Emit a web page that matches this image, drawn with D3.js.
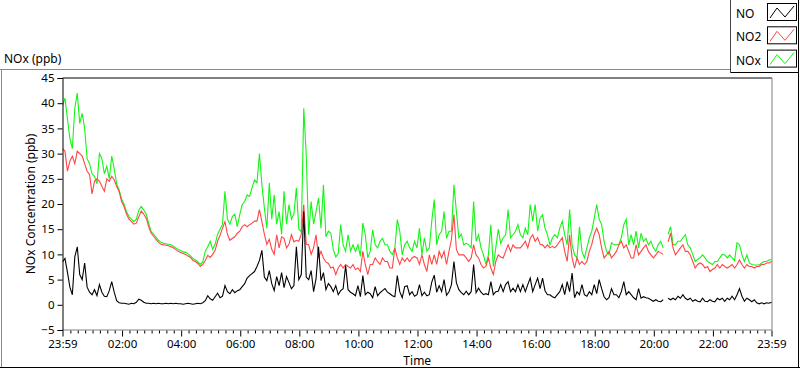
<!DOCTYPE html>
<html>
<head>
<meta charset="utf-8">
<script src="https://cdn.jsdelivr.net/npm/d3@7"></script>
<style>
    html, body { margin: 0; padding: 0; background: #fff; }
    svg { display: block; font-family: "Noto Sans", "Open Sans", sans-serif; }
</style>
</head>
<body>
<svg id="chart" width="800" height="369"></svg>
<script>
// readings every 5 minutes, 23:59 -> 23:59 next day (one row = one hour)
var startTime = new Date(2000, 0, 1, 23, 59);
var endTime = new Date(2000, 0, 2, 23, 59);
var stepMinutes = 5;

var seriesNames = ["NO", "NO2", "NOx"];
var yTicks = [-5, 0, 5, 10, 15, 20, 25, 30, 35, 40, 45];
var xTickLabels = ["23:59", "02:00", "04:00", "06:00", "08:00", "10:00", "12:00",
                   "14:00", "16:00", "18:00", "20:00", "22:00", "23:59"];

var noValues = [
    8.5, 9.2, 6.5, 3.5, 2.0, 9.5, 11.5, 6.0, 5.0, 8.3, 3.5, 2.5,
    2.0, 3.0, 1.8, 4.0, 2.5, 1.7, 1.6, 2.8, 4.6, 2.5, 0.8, 0.4,
    0.3, 0.3, 0.2, 0.1, 0.3, 0.2, 0.5, 1.1, 0.9, 0.5, 0.3, 0.3,
    0.2, 0.3, 0.2, 0.3, 0.2, 0.2, 0.3, 0.2, 0.3, 0.2, 0.3, 0.2,
    0.2, 0.1, 0.2, 0.3, 0.2, 0.1, 0.2, 0.3, 0.2, 0.4, 0.8, 1.8,
    1.2, 0.9, 1.6, 2.3, 1.4, 1.7, 3.8, 2.6, 2.2, 3.0, 2.4, 2.8,
    3.0, 3.6, 4.2, 5.3, 5.8, 6.2, 6.6, 7.6, 8.8, 10.8, 5.5, 4.8,
    6.8, 4.2, 2.8, 5.6, 3.8, 6.4, 3.4, 5.6, 4.4, 3.2, 3.8, 11.5,
    5.0, 6.0, 18.5, 5.5, 5.0, 6.8, 2.6, 5.2, 11.5, 4.8, 6.4, 3.0,
    4.2, 3.6, 2.6, 3.8, 2.0, 2.8, 3.2, 7.8, 3.0, 2.5, 2.2, 1.8,
    3.8, 1.6, 5.8, 2.0, 2.5, 2.2, 1.4, 3.6, 1.8, 2.4, 2.8, 3.2,
    2.5, 2.2, 1.8, 1.6, 5.8, 2.6, 1.4, 3.6, 3.8, 2.0, 2.6, 1.7,
    2.0, 4.0, 1.8, 2.5, 1.8, 2.0, 4.5, 5.9, 2.5, 3.8, 2.6, 5.0,
    1.9, 2.6, 4.0, 8.6, 4.4, 3.0, 2.4, 2.0, 2.7, 2.0, 2.6, 8.0,
    2.4, 3.3, 2.5, 2.0, 2.2, 2.0, 4.6, 2.0, 2.6, 2.7, 4.0, 2.6,
    4.0, 4.6, 2.6, 3.3, 2.6, 4.0, 2.6, 4.0, 2.6, 4.0, 5.3, 2.6,
    4.0, 5.3, 3.2, 5.3, 2.8, 2.0, 2.0, 1.6, 1.4, 2.0, 2.6, 4.0,
    2.0, 4.6, 2.6, 6.3, 1.4, 2.6, 2.0, 4.0, 2.0, 1.7, 2.6, 2.0,
    4.0, 2.2, 5.0, 3.2, 1.6, 1.0, 1.4, 3.2, 2.0, 2.0, 1.4, 2.6,
    4.6, 2.0, 2.6, 2.0, 1.4, 1.0, 3.2, 1.3, 1.6, 1.4, 1.3, 1.0,
    0.7, 1.0, 0.7, 0.6, 1.0, null, 1.3, 1.0, 1.3, 1.0, 1.7, 1.3,
    2.0, 1.3, 1.0, 1.3, 0.7, 1.0, 0.7, 0.6, 1.3, 0.7, 0.6, 1.0,
    0.7, 0.6, 1.3, 1.0, 1.3, 0.7, 1.3, 1.0, 1.7, 1.0, 2.0, 3.2,
    1.7, 0.7, 1.3, 1.0, 0.6, 1.0, 0.4, 0.2, 0.4, 0.2, 0.4, 0.3,
    0.5
];

var no2Values = [
    31, 30.5, 26.5, 28.5, 29.5, 28, 30.5, 30, 29.5, 28, 26.5, 25.8,
    22, 24.5, 25, 24.5, 23.5, 22.5, 25, 24.5, 25.5, 24.8, 23.5, 22.5,
    20.5, 19.5, 18, 17, 16.5, 16, 16.2, 17.5, 18.6, 18, 17.2, 15.5,
    14.2, 13.6, 13, 12.4, 12, 11.9, 11.8, 11.7, 11.5, 11.3, 11, 10.6,
    10.4, 10.2, 10, 9.7, 9.4, 8.8, 8.6, 8.2, 7.6, 8, 8.8, 9.8,
    9.4, 10, 10.8, 12.6, 13.8, 15.2, 16.5, 14, 12.8, 13.2, 13.5, 14.2,
    14.6, 15.5, 15.9, 15.5, 15.9, 16.2, 16.6, 16.6, 18.9, 16.5, 14, 12,
    13, 11, 10, 13.9, 11.3, 13.5, 13.2, 11.3, 12, 13.9, 12.5, 12.8,
    12.6, 14, 19.9, 12, 11.9, 10, 11.3, 13.9, 9.3, 10.6, 9.3, 8.5,
    8.2, 7.3, 7.5, 6, 7.3, 8, 7.3, 8, 7.6, 7.3, 8, 7,
    7.3, 6.6, 10.6, 8, 6, 8, 8, 9.3, 8.6, 8, 9.3, 8.6,
    8.6, 7.3, 7.3, 11.3, 9.3, 8, 9.3, 8.6, 9.3, 8.6, 9.3, 9.6,
    9.3, 8, 9.9, 8, 6.6, 9.9, 8, 9.9, 8, 10.6, 9.3, 10.6,
    8, 10.6, 13, 17.9, 11, 9.9, 9.9, 9.9, 9.3, 8.6, 9.3, 11.9,
    9.9, 9.3, 8, 7.3, 7.6, 9.3, 7.3, 6, 8.6, 9.9, 9.5, 9.3,
    10.6, 11.9, 10.6, 11.9, 11.3, 11.3, 11.3, 11.9, 12.6, 11.3, 13.2, 13.9,
    12.6, 13.3, 12, 11.9, 11.3, 11.9, 11.3, 11.6, 11.3, 11.9, 12.6, 13.3,
    10.6, 8.6, 13.9, 9.3, 7.3, 9.3, 8, 8.6, 8, 8.6, 10.6, 12,
    14, 15.2, 13.9, 11.3, 9.3, 9.9, 10.6, 9.3, 9.9, 10.6, 11.9, 12.6,
    11.3, 11.9, 10.6, 9.3, 9.3, 11.9, 9.9, 10.6, 11.3, 11.9, 10.6, 9.9,
    9.3, 9.9, 10.6, 10.3, 10, null, 12.5, 14.2, 11.3, 9.9, 10.6, 11.3,
    11.9, 10.6, 10.6, 9.9, 8.6, 7.3, 8, 8.3, 8, 7.3, 7.6, 6.6,
    7, 7.3, 8, 7.3, 8, 7.6, 7.3, 7.6, 8, 7.3, 8, 8.9,
    8, 7.3, 8, 7.6, 7.6, 7.3, 7.6, 7.6, 8, 8, 8.3, 8.3,
    8.6
];

var noxValues = [
    39.5, 41, 37, 33, 31, 39, 42, 36, 38, 35, 29, 28,
    26, 25.5, 24, 30, 29, 26, 27.5, 25, 29.5, 27, 24, 22.8,
    21, 20, 18.5, 17.5, 17, 16.5, 17, 18.8, 19.5, 18.8, 18, 16.2,
    14.5, 14, 13.4, 12.8, 12.4, 12.2, 12.1, 12, 11.9, 11.6, 11.3, 11,
    10.8, 10.5, 10.4, 10.1, 9.7, 9.2, 8.9, 8.5, 8, 8.5, 10.6, 11.5,
    12.6, 11, 12, 14, 15, 16, 22.5, 17, 16, 17.5, 18, 15.5,
    17.9, 19.9, 20.5, 21.8, 21.5, 23.2, 24.8, 24.2, 30, 23.8, 19.2, 15.2,
    24.2, 17, 21.8, 16, 18.5, 14, 22.5, 16, 19.9, 17, 18, 23.2,
    15, 14.5, 39, 29.8, 13.9, 20.5, 16, 18.5, 21.2, 15.2, 23.8, 13.5,
    14.6, 14.2, 11, 9.5, 10.2, 15.9, 11.9, 10.6, 13.9, 10.6, 11.9, 10.6,
    11.9, 9.6, 16.2, 13.9, 9.3, 10.6, 14.9, 11.9, 11.3, 12.6, 13.2, 11.9,
    11.9, 10.6, 10, 11.3, 16.9, 14.6, 9.9, 11.9, 12.6, 11.3, 10.6, 12.6,
    11.3, 15.2, 9.9, 13.3, 10.6, 11.3, 16.6, 20.9, 11.9, 13.9, 14.6, 18.5,
    13.2, 14.6, 14.6, 23.8, 18.5, 13.3, 14, 11.9, 12.2, 11.9, 11.3, 20.5,
    12.6, 13.9, 11.3, 9.9, 8, 9.9, 15.9, 7.6, 11.3, 15, 12.2, 13.3,
    13.9, 18.9, 13.3, 13.9, 14.6, 15.9, 13.9, 13.3, 15.2, 13.9, 19.9, 16.6,
    19.9, 14.6, 17.2, 17.9, 15.2, 13.9, 11.9, 13.3, 13.9, 13.3, 15.2, 16.6,
    13.9, 11.9, 18.9, 11.9, 9.9, 9.3, 15.5, 10.6, 9.3, 11.3, 13.3, 14.6,
    17.2, 19.9, 17, 15.9, 12.6, 10.6, 10, 12.3, 11.9, 11.9, 12, 13.3,
    15.9, 17, 11.9, 13.9, 11.9, 14.6, 11.3, 14.2, 12.6, 13.2, 11.9, 12.6,
    11.3, 10.6, 12, 12.6, 11.3, null, 14, 15.5, 12, 11.9, 12.6, 12.6,
    13.3, 13.9, 11.9, 11.3, 10, 8.6, 9, 9.3, 9.9, 9.3, 8.6, 8.3,
    8, 8.6, 8.6, 9.3, 10, 9.9, 9.3, 9.9, 9.3, 8.8, 12.3, 11.9,
    9.9, 8.6, 9.9, 8.3, 8, 7.9, 7.9, 7.9, 8.3, 8.6, 8.6, 8.9,
    9.0
];

var seriesColors = {"NO": "#000000", "NO2": "#ff4545", "NOx": "#14f514"};

var svg = d3.select("#chart"),
    plot = {left: 62.5, right: 772, top: 78, bottom: 330};

var times = noValues.map(function(d, i) {
    return d3.timeMinute.offset(startTime, i * stepMinutes);
});

var x = d3.scaleTime()
    .domain([startTime, endTime])
    .range([plot.left, plot.right - 0.5]);

var y = d3.scaleLinear()
    .domain([-5, 45])
    .range([plot.bottom, plot.top]);

// outer panel
svg.append("line").attr("x1", 0).attr("x2", 731).attr("y1", 69.5).attr("y2", 69.5).attr("stroke", "#8a8a8a");
svg.append("line").attr("x1", 1.5).attr("x2", 1.5).attr("y1", 69.5).attr("y2", 368).attr("stroke", "#8a8a8a");
svg.append("line").attr("x1", 0).attr("x2", 800).attr("y1", 367.5).attr("y2", 367.5).attr("stroke", "#000");
svg.append("line").attr("x1", 798.5).attr("x2", 798.5).attr("y1", 0).attr("y2", 368).attr("stroke", "#000");

svg.append("text")
    .attr("x", 4).attr("y", 63)
    .attr("font-size", 12)
    .text("NOx (ppb)");

// plot frame
svg.append("line").attr("x1", plot.left).attr("x2", plot.right).attr("y1", plot.top).attr("y2", plot.top).attr("stroke", "#000");
svg.append("line").attr("x1", plot.right).attr("x2", plot.right).attr("y1", plot.top).attr("y2", plot.bottom).attr("stroke", "#808080");
svg.append("line").attr("x1", plot.left).attr("x2", plot.right).attr("y1", plot.bottom).attr("y2", plot.bottom).attr("stroke", "#808080");

svg.append("clipPath").attr("id", "clip")
    .append("rect")
    .attr("x", plot.left).attr("y", plot.top + 1)
    .attr("width", plot.right - plot.left).attr("height", plot.bottom - plot.top - 1);

var line = d3.line()
    .defined(function(d) { return d.v != null; })
    .x(function(d) { return x(d.t); })
    .y(function(d) { return y(d.v); });

var drawOrder = [["NOx", noxValues], ["NO2", no2Values], ["NO", noValues]];
drawOrder.forEach(function(s) {
    var pts = s[1].map(function(v, i) { return {t: times[i], v: v}; });
    svg.append("path")
        .datum(pts)
        .attr("clip-path", "url(#clip)")
        .attr("fill", "none")
        .attr("stroke", seriesColors[s[0]])
        .attr("stroke-width", 1.1)
        .attr("stroke-linejoin", "miter")
        .attr("d", line);
});

// y axis
var yAxis = svg.append("g")
    .attr("transform", "translate(" + plot.left + ",0)")
    .call(d3.axisLeft(y).tickValues(yTicks).tickSize(5).tickPadding(3));
yAxis.select(".domain").attr("stroke", "#000");
yAxis.selectAll("text").attr("font-size", 11.5).attr("font-family", "Noto Sans").attr("fill", "#000");

// x axis
var majorTimes = xTickLabels.map(function(lbl, i) {
    if (i === 0) return startTime;
    if (i === xTickLabels.length - 1) return endTime;
    var hm = lbl.split(":");
    return new Date(2000, 0, 2, +hm[0], +hm[1]);
});
var minorTimes = d3.timeMinute.every(15).range(startTime, endTime).filter(function(t) {
    return majorTimes.every(function(m) { return Math.abs(m - t) > 5 * 60000; });
});

var xMinor = svg.append("g")
    .attr("transform", "translate(0," + (plot.bottom + 0.5) + ")")
    .call(d3.axisBottom(x).tickValues(minorTimes).tickSize(3).tickFormat(""));
xMinor.select(".domain").remove();

var xMajor = svg.append("g")
    .attr("transform", "translate(0," + (plot.bottom + 0.5) + ")")
    .call(d3.axisBottom(x).tickValues(majorTimes).tickSize(6).tickPadding(3)
        .tickFormat(function(d, i) { return xTickLabels[i]; }));
xMajor.select(".domain").remove();
xMajor.selectAll("text").attr("font-size", 11.5).attr("font-family", "Noto Sans").attr("fill", "#000");

svg.append("text")
    .attr("x", (plot.left + plot.right) / 2).attr("y", 365)
    .attr("text-anchor", "middle")
    .attr("font-size", 12)
    .text("Time");

svg.append("text")
    .attr("transform", "translate(35," + ((plot.top + plot.bottom) / 2) + ") rotate(-90)")
    .attr("text-anchor", "middle")
    .attr("font-size", 12)
    .text("NOx Concentration (ppb)");

// legend
svg.append("line").attr("x1", 730.5).attr("x2", 730.5).attr("y1", 0).attr("y2", 72.5).attr("stroke", "#444");
svg.append("line").attr("x1", 730.5).attr("x2", 799).attr("y1", 72.5).attr("y2", 72.5).attr("stroke", "#000");

var swatchLine = d3.line();
var legend = svg.selectAll(".legend")
    .data(seriesNames)
    .enter().append("g")
    .attr("transform", function(d, i) { return "translate(0," + (i * 23.3) + ")"; });

legend.append("text")
    .attr("x", 736).attr("y", 18)
    .attr("font-size", 12)
    .text(function(d) { return d; });

legend.append("rect")
    .attr("x", 767.5).attr("y", 3.5)
    .attr("width", 29).attr("height", 17)
    .attr("fill", "#fff").attr("stroke", "#000");

legend.append("path")
    .attr("fill", "none")
    .attr("stroke", function(d) { return seriesColors[d]; })
    .attr("d", swatchLine([[770, 18], [777, 8], [785, 17], [794, 6]]));
</script>
</body>
</html>
